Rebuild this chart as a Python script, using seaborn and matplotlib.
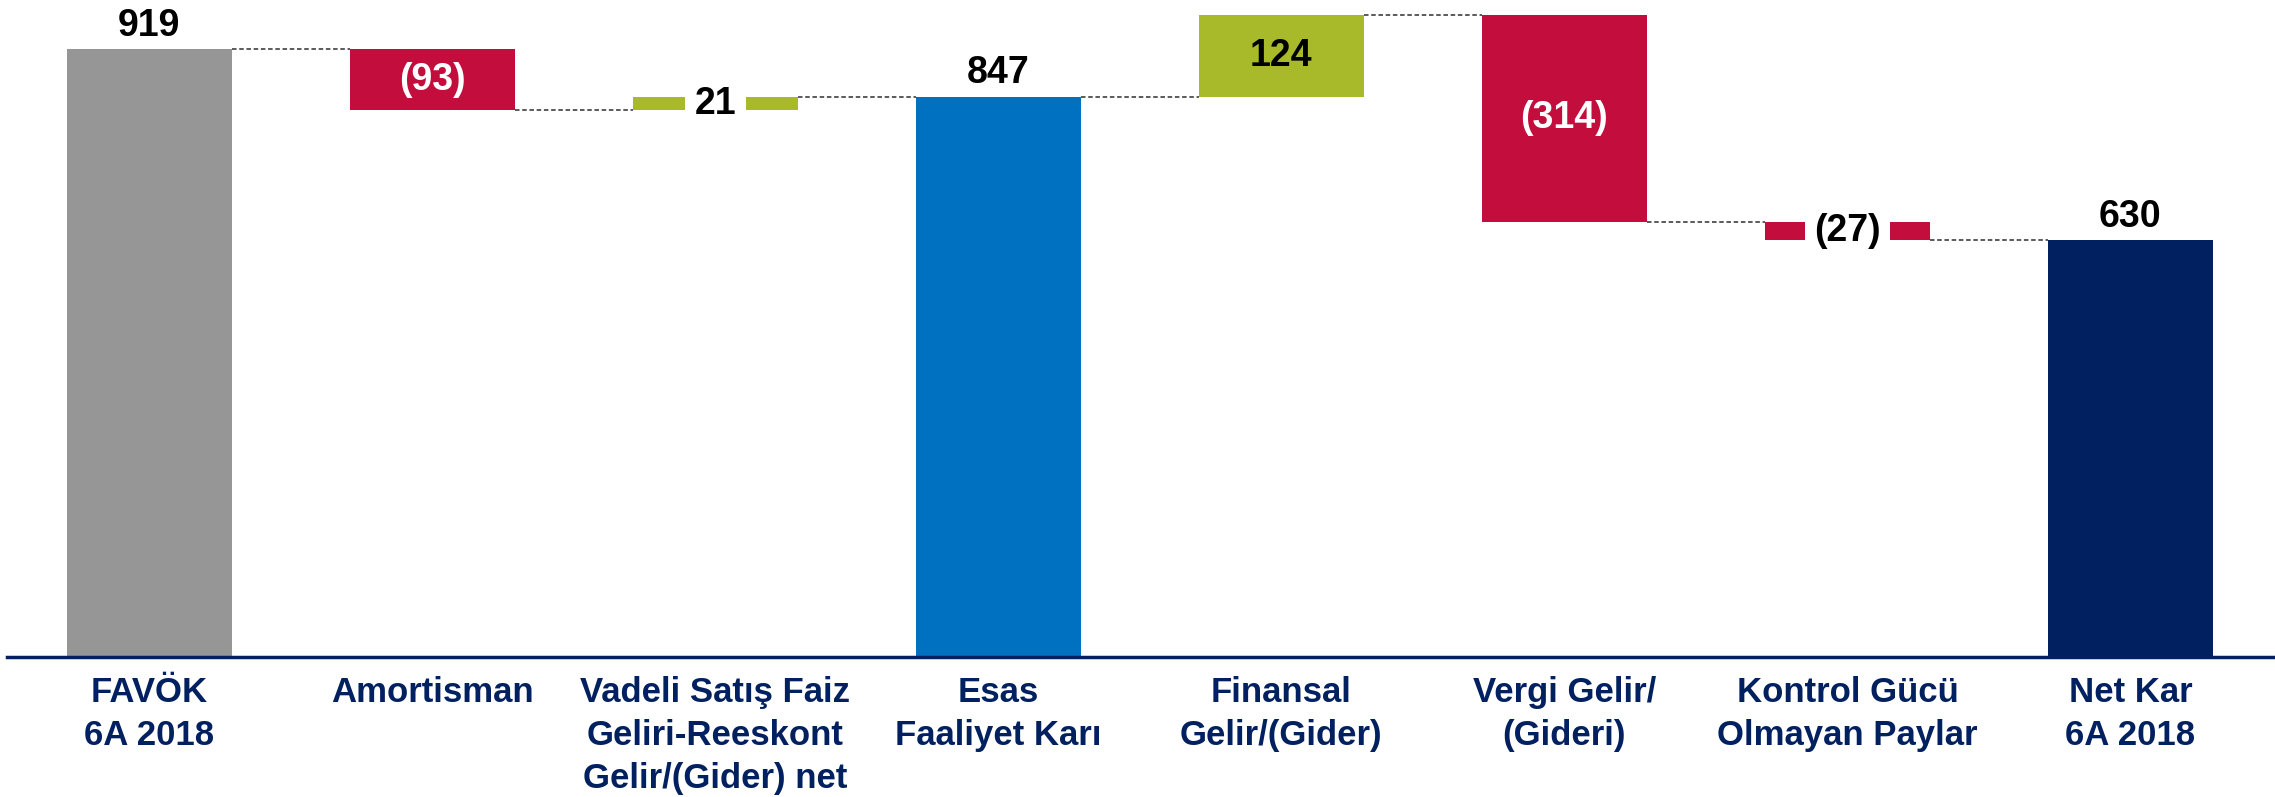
import numpy as np
import pandas as pd
import matplotlib
matplotlib.use("Agg")
import matplotlib.pyplot as plt
import seaborn as sns

# Waterfall data (TL mn)
categories = ['FAVÖK\n6A 2018', 'Amortisman',
              'Vadeli Satış Faiz\nGeliri-Reeskont\nGelir/(Gider) net',
              'Esas\nFaaliyet Karı', 'Finansal\nGelir/(Gider)',
              'Vergi Gelir/\n(Gideri)', 'Kontrol Gücü\nOlmayan Paylar',
              'Net Kar\n6A 2018']
values = [919, -93, 21, 847, 124, -314, -27, 630]
is_total = [True, False, False, True, False, False, False, True]
value_labels = ['919', '(93)', '21', '847', '124', '(314)', '(27)', '630']

GREY = '#969696'
RED = '#C20D3D'
GREEN = '#A8B929'
BLUE = '#0070C0'
NAVY = '#002060'
total_colors = [GREY, None, None, BLUE, None, None, None, NAVY]

sns.set_theme(style='white')
plt.rcParams['font.family'] = ['Liberation Sans', 'DejaVu Sans']
plt.rcParams['font.weight'] = 'bold'

# running totals -> bar bottoms / heights
bottoms, heights, ends, colors = [], [], [], []
running = 0
for v, tot, tc in zip(values, is_total, total_colors):
    if tot:
        running = v
        bottoms.append(0)
        heights.append(v)
        colors.append(tc)
    else:
        start = running
        running = running + v
        bottoms.append(min(start, running))
        heights.append(abs(v))
        colors.append(GREEN if v > 0 else RED)
    ends.append(running)

df = pd.DataFrame({'cat': categories, 'h': heights})

fig = plt.figure(figsize=(22.75, 7.97), dpi=100)
ax = fig.add_axes([0.003, 0.1757, 0.997, 0.8243])

bar_w = 0.585
sns.barplot(data=df, x='cat', y='h', bottom=np.array(bottoms), width=bar_w,
            color=GREY, errorbar=None, ax=ax, linewidth=0)
for patch, c in zip(ax.patches, colors):
    patch.set_facecolor(c)
    patch.set_edgecolor(c)

# connector lines
for i in range(len(values) - 1):
    ax.plot([i + bar_w / 2, i + 1 - bar_w / 2], [ends[i], ends[i]],
            color='#4d4d4d', lw=1.3, ls=(0, (2.5, 1.5)), zorder=1)

# value labels
for i, (v, tot, lab) in enumerate(zip(values, is_total, value_labels)):
    top = bottoms[i] + heights[i]
    mid = bottoms[i] + heights[i] / 2
    if tot:
        ax.text(i, top + 8, lab, ha='center', va='bottom', fontsize=27,
                fontweight='bold', color='black')
    elif abs(v) < 50:
        ax.text(i, mid, lab, ha='center', va='center', fontsize=27,
                fontweight='bold', color='black',
                bbox=dict(boxstyle='square,pad=0.25', fc='white', ec='none'))
    else:
        ax.text(i, mid, lab, ha='center', va='center', fontsize=27,
                fontweight='bold', color='white' if v < 0 else 'black')

ax.set_xlim(-0.5036, 7.511)
ax.set_ylim(0, 993)
ax.set_xlabel('')
ax.set_ylabel('')
ax.set_yticks([])
for s in ['top', 'right', 'left']:
    ax.spines[s].set_visible(False)
ax.spines['bottom'].set_color(NAVY)
ax.spines['bottom'].set_linewidth(2.5)
ax.tick_params(axis='x', length=0, pad=14, labelsize=25, colors=NAVY)
for t in ax.get_xticklabels():
    t.set_fontweight('bold')
    t.set_linespacing(1.38)

fig.savefig('out.png', dpi=100)
